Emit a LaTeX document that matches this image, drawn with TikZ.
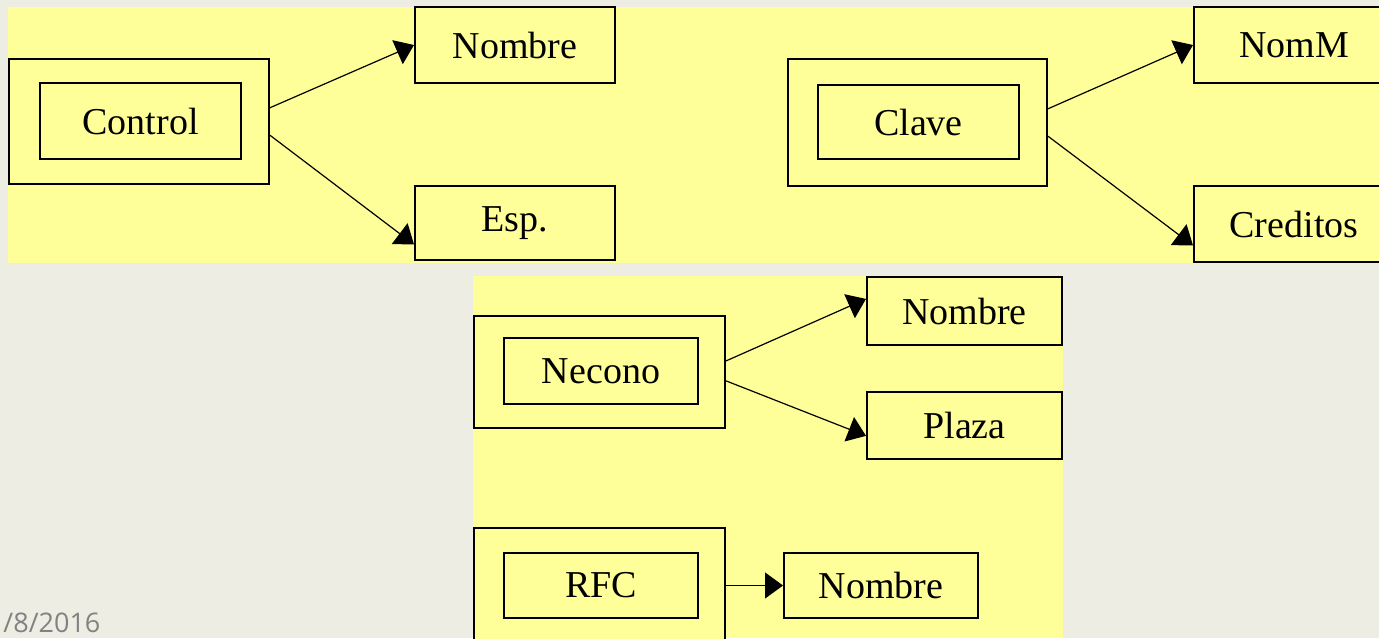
\documentclass[tikz,border=0pt]{standalone}
\usepackage{fontspec}
\setmainfont{Liberation Serif}
\newfontfamily\fechafont{Open Sans}
\usetikzlibrary{arrows.meta}
\definecolor{fondo}{RGB}{238,237,227}
\definecolor{amarillo}{RGB}{255,255,153}
\definecolor{gris}{RGB}{130,130,130}

\begin{document}
\begin{tikzpicture}[x=0.5pt,y=-0.5pt,
    caja/.style args={#1 by #2}{draw,line width=1pt,fill=amarillo,inner sep=0pt,
        minimum width={#1*0.5pt},minimum height={#2*0.5pt},font=\fontsize{19}{22}\selectfont},
    flecha/.style={line width=0.6pt,-{Triangle[length=9pt,width=13pt]}}]
    \clip (0,0) rectangle (1379,638);
    \fill[fondo] (0,0) rectangle (1379,638);
    \fill[amarillo] (8,7) rectangle (1379,263);
    \fill[amarillo] (473,276) rectangle (1063,638);
    % Control
    \node[caja={260 by 125}] (control-ext) at (139,121.5) {};
    \node[caja={201 by 76}] (control) at (140.5,121) {Control};
    \node[caja={200 by 76}] (nombre1) at (515,45) {Nombre};
    \node[caja={200 by 74}] (esp) at (515,223) {Esp.};
    \draw[flecha] (control-ext.6) -- (nombre1.west);
    \draw[flecha] (control-ext.-6) -- (esp.192);
    % Clave
    \node[caja={259 by 127}] (clave-ext) at (917.5,122.5) {};
    \node[caja={201 by 74}] (clave) at (918.5,122) {Clave};
    \node[caja={200 by 76}] (nomm) at (1294,45) {NomM};
    \node[caja={200 by 76}] (creditos) at (1294,224) {Creditos};
    \draw[flecha] (clave-ext.6) -- (nomm.west);
    \draw[flecha] (clave-ext.-6) -- (creditos.192);
    % Necono
    \node[caja={251 by 112}] (necono-ext) at (599.5,372) {};
    \node[caja={194 by 66}] (necono) at (601,371) {Necono};
    \node[caja={195 by 68}] (nombre2) at (964.5,311) {Nombre};
    \node[caja={195 by 67}] (plaza) at (964.5,425.5) {Plaza};
    \draw[flecha] (necono-ext.5) -- (nombre2.173);
    \draw[flecha] (necono-ext.-4) -- (plaza.186);
    % RFC
    \node[caja={251 by 115}] (rfc-ext) at (599.5,585.5) {};
    \node[caja={194 by 65}] (rfc) at (601,585.5) {RFC};
    \node[caja={194 by 65}] (nombre3) at (881,585.5) {Nombre};
    \draw[flecha] (rfc-ext.east) -- (nombre3.west);
    \node[anchor=base west,inner sep=0pt,text=gris,font=\fechafont\fontsize{13.5}{16}\selectfont] (fecha) at (3,632) {/8/2016};
\end{tikzpicture}
\end{document}
